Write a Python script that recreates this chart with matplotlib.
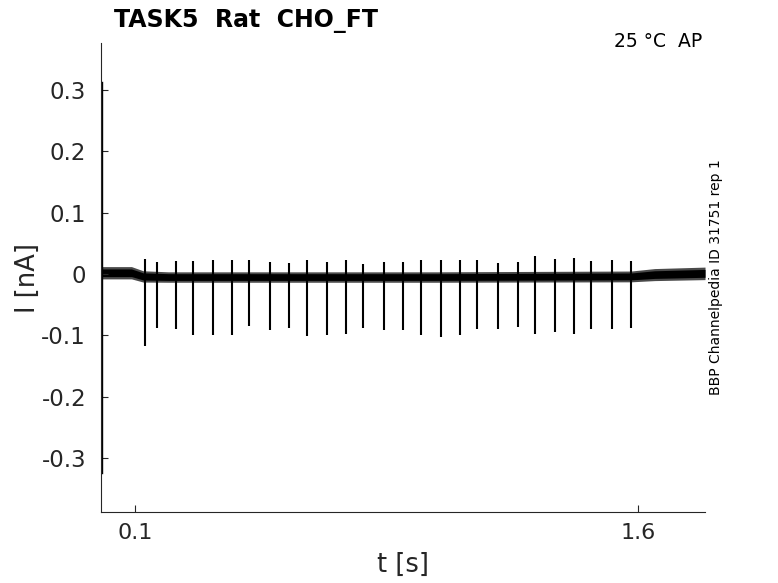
import matplotlib
matplotlib.use("Agg")
import matplotlib.pyplot as plt
import numpy as np

# ---- data ----
# baseline (noise band) of the current trace
base_t = [0.0, 0.09, 0.125, 0.2, 1.0, 1.58, 1.65, 1.8]
base_center = [0.002, 0.002, -0.004, -0.005, -0.005, -0.004, -0.001, 0.001]
base_core = [0.0062, 0.0062, 0.0058, 0.0055, 0.0055, 0.0056, 0.0062, 0.0064]
base_fuzz = [0.0100, 0.0100, 0.0092, 0.0085, 0.0085, 0.0088, 0.0098, 0.0102]

# initial capacitive transient at trace start
transient_t = [0.001, 0.001]
transient_i = [0.312, -0.3235]

# stimulus-evoked spikes (time, top, bottom)
spike_t = [0.1298, 0.1656, 0.2214, 0.2730, 0.3317, 0.3893, 0.4400, 0.5017, 0.5602,
           0.6121, 0.6717, 0.7293, 0.7800, 0.8426, 0.9002, 0.9530, 1.0126, 1.0693,
           1.1200, 1.1826, 1.2414, 1.2930, 1.3526, 1.4093, 1.4600, 1.5226, 1.5802]
spike_top = [0.0237, 0.0188, 0.0210, 0.0210, 0.0221, 0.0221, 0.0221, 0.0188, 0.0177,
             0.0232, 0.0200, 0.0221, 0.0167, 0.0188, 0.0200, 0.0221, 0.0221, 0.0221,
             0.0221, 0.0177, 0.0188, 0.0286, 0.0249, 0.0265, 0.0210, 0.0221, 0.0210]
spike_bottom = [-0.1165, -0.0879, -0.0895, -0.0986, -0.0998, -0.0986, -0.0846, -0.0911,
                -0.0879, -0.1009, -0.0998, -0.0981, -0.0872, -0.0905, -0.0911, -0.0998,
                -0.1025, -0.0998, -0.0888, -0.0888, -0.0861, -0.0981, -0.0944, -0.0970,
                -0.0888, -0.0888, -0.0872]

x_ticks = [0.1, 1.6]
x_ticklabels = ["0.1", "1.6"]
y_ticks = [-0.3, -0.2, -0.1, 0.0, 0.1, 0.2, 0.3]
y_ticklabels = ["-0.3", "-0.2", "-0.1", "0", "0.1", "0.2", "0.3"]

title = "TASK5  Rat  CHO_FT"
annot = "25 °C  AP"
side_text = "BBP Channelpedia ID 31751 rep 1"

# ---- figure ----
grey = "#262626"
fig = plt.figure(figsize=(7.78, 5.83), dpi=100)
ax = fig.add_axes([0.1302, 0.1223, 0.7760, 0.8034])

bt = np.array(base_t)
bc = np.array(base_center)
bf = np.array(base_fuzz)
bk = np.array(base_core)
ax.fill_between(bt, bc - bf, bc + bf, color="#4a4a4a", linewidth=0)
ax.fill_between(bt, bc - bk, bc + bk, color="black", linewidth=0)
ax.plot(transient_t, transient_i, color="black", lw=1.0)
ax.vlines(spike_t, spike_bottom, spike_top, color="black", lw=1.5)

all_min = min(min(transient_i), min(spike_bottom))
all_max = max(max(transient_i), max(spike_top))
rng = all_max - all_min
ax.set_ylim(all_min - 0.1 * rng, all_max + 0.1 * rng)
ax.set_xlim(0.0, 1.8)

ax.set_xticks(x_ticks)
ax.set_xticklabels(x_ticklabels)
ax.set_yticks(y_ticks)
ax.set_yticklabels(y_ticklabels)

for s in ["top", "right"]:
    ax.spines[s].set_visible(False)
for s in ["left", "bottom"]:
    ax.spines[s].set_color(grey)
    ax.spines[s].set_linewidth(0.8)

ax.tick_params(axis="both", direction="in", length=5, width=0.8, colors=grey,
               labelsize=16, labelcolor=grey)
ax.tick_params(axis="y", labelsize=16.5)
ax.tick_params(axis="x", pad=8)
ax.tick_params(axis="y", pad=11)

ax.set_xlabel("t [s]", fontsize=18.5, color=grey)
ax.xaxis.label.set_va("center")
ax.xaxis.set_label_coords(0.5, -0.114)
ax.set_ylabel("I [nA]", fontsize=18.5, color=grey)
ax.yaxis.label.set_va("center")
ax.yaxis.set_label_coords(-0.122, 0.5)

fig.text(114 / 778, 1 - 26.7 / 583, title, fontsize=17, fontweight="bold",
         ha="left", va="baseline", color="black")
fig.text(702 / 778, 1 - 47.0 / 583, annot, fontsize=13.5, ha="right",
         va="baseline", color="black")
fig.text(716 / 778, 1 - 277.5 / 583, side_text, fontsize=10, rotation=90,
         ha="center", va="center", color="black")

fig.savefig("out.png", dpi=100)
